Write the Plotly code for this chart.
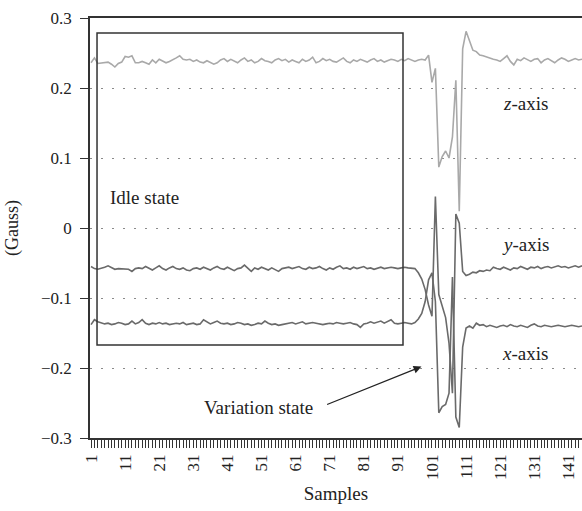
import plotly.graph_objects as go

# ---------------- data ----------------
z_axis = [
    0.236, 0.243, 0.235, 0.236, 0.236, 0.237, 0.234, 0.230, 0.235, 0.237,
    0.245, 0.244, 0.246, 0.236, 0.236, 0.238, 0.236, 0.234, 0.240, 0.236,
    0.241, 0.238, 0.236, 0.238, 0.240, 0.243, 0.246, 0.241, 0.240, 0.241,
    0.238, 0.240, 0.237, 0.236, 0.239, 0.237, 0.234, 0.236, 0.240, 0.242,
    0.238, 0.241, 0.239, 0.236, 0.240, 0.243, 0.238, 0.240, 0.236, 0.238,
    0.242, 0.239, 0.238, 0.236, 0.240, 0.242, 0.239, 0.241, 0.237, 0.240,
    0.238, 0.236, 0.241, 0.238, 0.240, 0.244, 0.236, 0.238, 0.242, 0.239,
    0.241, 0.238, 0.237, 0.240, 0.243, 0.238, 0.236, 0.240, 0.238, 0.241,
    0.239, 0.237, 0.240, 0.242, 0.238, 0.240, 0.237, 0.239, 0.241, 0.240,
    0.238, 0.241, 0.239, 0.242, 0.240, 0.238, 0.240, 0.241,
    0.240, 0.247, 0.208, 0.228, 0.087, 0.102, 0.110, 0.100, 0.130, 0.211,
    0.024, 0.256, 0.281, 0.266, 0.254, 0.252, 0.247, 0.246, 0.244, 0.243,
    0.241, 0.240, 0.238, 0.242, 0.246, 0.238, 0.233, 0.241, 0.239, 0.243,
    0.240, 0.238, 0.241, 0.242, 0.236, 0.240, 0.242, 0.239, 0.236, 0.240,
    0.243, 0.241, 0.238, 0.240, 0.242, 0.240, 0.241,
]

y_axis = [
    -0.055, -0.058, -0.059, -0.058, -0.056, -0.054, -0.057, -0.059, -0.058, -0.058,
    -0.058, -0.059, -0.062, -0.058, -0.057, -0.058, -0.055, -0.058, -0.060, -0.057,
    -0.054, -0.058, -0.060, -0.057, -0.055, -0.058, -0.059, -0.057, -0.060, -0.061,
    -0.058, -0.057, -0.059, -0.056, -0.058, -0.060, -0.057, -0.055, -0.058, -0.059,
    -0.056, -0.058, -0.061, -0.058, -0.057, -0.053, -0.058, -0.062, -0.057, -0.059,
    -0.056, -0.058, -0.060, -0.057, -0.059, -0.062, -0.058, -0.057, -0.056, -0.058,
    -0.057, -0.055, -0.058, -0.059, -0.056, -0.058, -0.057, -0.055, -0.058, -0.060,
    -0.057, -0.059, -0.056, -0.054, -0.058, -0.057, -0.059, -0.056, -0.058, -0.057,
    -0.055, -0.058, -0.057, -0.059, -0.057, -0.056, -0.058, -0.057, -0.056, -0.057,
    -0.058, -0.057, -0.056, -0.057, -0.058, -0.058, -0.064, -0.073,
    -0.088, -0.110, -0.126, 0.045, -0.095, -0.110, -0.128, -0.165, -0.236, 0.020,
    0.007, -0.062, -0.068, -0.066, -0.063, -0.064, -0.061, -0.062, -0.060, -0.061,
    -0.056, -0.058, -0.059, -0.056, -0.058, -0.060, -0.057, -0.058, -0.055, -0.057,
    -0.059, -0.056, -0.057, -0.055, -0.058, -0.056, -0.055, -0.057, -0.056, -0.054,
    -0.056, -0.055, -0.057, -0.055, -0.054, -0.056, -0.054,
]

x_axis = [
    -0.138, -0.131, -0.134, -0.136, -0.137, -0.136, -0.138, -0.137, -0.135, -0.136,
    -0.138, -0.137, -0.133, -0.137, -0.135, -0.131, -0.136, -0.138, -0.136, -0.137,
    -0.135, -0.137, -0.136, -0.138, -0.137, -0.136, -0.137, -0.135, -0.138, -0.137,
    -0.136, -0.138, -0.137, -0.131, -0.134, -0.137, -0.135, -0.133, -0.136, -0.137,
    -0.136, -0.138, -0.137, -0.135, -0.136, -0.138, -0.137, -0.139, -0.138, -0.136,
    -0.137, -0.133, -0.136, -0.138, -0.137, -0.139, -0.138, -0.137, -0.136, -0.135,
    -0.137, -0.136, -0.134, -0.137, -0.136, -0.135, -0.136, -0.137, -0.138, -0.137,
    -0.136, -0.137, -0.135, -0.136, -0.137, -0.136, -0.135, -0.137, -0.138, -0.142,
    -0.137, -0.136, -0.134, -0.136, -0.135, -0.133, -0.136, -0.134, -0.131, -0.136,
    -0.137, -0.136, -0.135, -0.136, -0.137, -0.135, -0.130, -0.122,
    -0.105, -0.074, -0.064, -0.105, -0.264, -0.255, -0.252, -0.236, -0.070, -0.270,
    -0.285, -0.170, -0.143, -0.140, -0.143, -0.136, -0.139, -0.138, -0.141, -0.139,
    -0.140, -0.142, -0.140, -0.139, -0.141, -0.138, -0.140, -0.141, -0.139, -0.140,
    -0.142, -0.139, -0.137, -0.140, -0.141, -0.139, -0.140, -0.141, -0.140, -0.139,
    -0.140, -0.141, -0.140, -0.139, -0.140, -0.141, -0.140,
]

tick_labels = [str(v) for v in range(1, 146, 10)]
tick_positions = list(range(1, 146, 10))

# ---------------- figure ----------------
FONT = "Liberation Serif"
DARK = "#333333"
TXT = "#222222"

fig = go.Figure()
for vals, color in [(z_axis, "#a9a9a9"), (y_axis, "#6a6a6a"), (x_axis, "#6a6a6a")]:
    fig.add_trace(go.Scatter(
        x=list(range(1, len(vals) + 1)), y=vals, mode="lines",
        line=dict(color=color, width=1.6), showlegend=False, hoverinfo="skip",
    ))

fig.add_shape(type="rect", xref="x", yref="y", x0=2.76, x1=92.5, y0=-0.167, y1=0.2786,
              line=dict(color=DARK, width=1.5), fillcolor="rgba(0,0,0,0)")

ann_font = dict(family=FONT, size=19, color=TXT)
fig.add_annotation(x=6.0, y=0.044, text="Idle state", showarrow=False,
                   xanchor="left", font=ann_font)
fig.add_annotation(x=128.3, y=0.178, text="<i>z</i>-axis", showarrow=False, font=ann_font)
fig.add_annotation(x=128.3, y=-0.024, text="<i>y</i>-axis", showarrow=False, font=ann_font)
fig.add_annotation(x=128.3, y=-0.179, text="<i>x</i>-axis", showarrow=False, font=ann_font)
fig.add_annotation(x=50.0, y=-0.257, text="Variation state", showarrow=False, font=ann_font)
fig.add_annotation(x=97.9, y=-0.198, ax=69.8, ay=-0.253, axref="x", ayref="y",
                   text="", showarrow=True, arrowhead=2, arrowsize=1.2,
                   arrowwidth=1.3, arrowcolor=TXT)

fig.update_layout(
    width=582, height=511,
    margin=dict(l=90, r=0, t=18, b=73),
    plot_bgcolor="white", paper_bgcolor="white",
    font=dict(family=FONT, size=17, color=TXT),
    xaxis=dict(
        range=[0.7, 145.0],
        tickvals=tick_positions, ticktext=tick_labels, tickangle=-90,
        ticks="outside", ticklen=8, tickwidth=1, tickcolor=DARK,
        minor=dict(dtick=1, tick0=0, ticks="outside", ticklen=8, tickwidth=1, tickcolor=DARK),
        showline=True, linecolor=DARK, linewidth=1.5, mirror=True,
        showgrid=False, zeroline=False,
        tickfont=dict(family=FONT, size=17, color=TXT),
        title=dict(text="Samples", font=dict(family=FONT, size=19), standoff=8),
    ),
    yaxis=dict(
        range=[-0.3, 0.3], dtick=0.1, tick0=0,
        ticks="outside", ticklen=8, tickwidth=1.2, tickcolor=DARK,
        ticklabelstandoff=5,
        showline=True, linecolor=DARK, linewidth=1.5,
        showgrid=True, gridcolor="#8a8a8a", gridwidth=1, griddash="2px,9px",
        zeroline=False,
        tickfont=dict(family=FONT, size=17, color=TXT),
        title=dict(text="(Gauss)", font=dict(family=FONT, size=18), standoff=18),
    ),
)

fig.write_html("out.html")
